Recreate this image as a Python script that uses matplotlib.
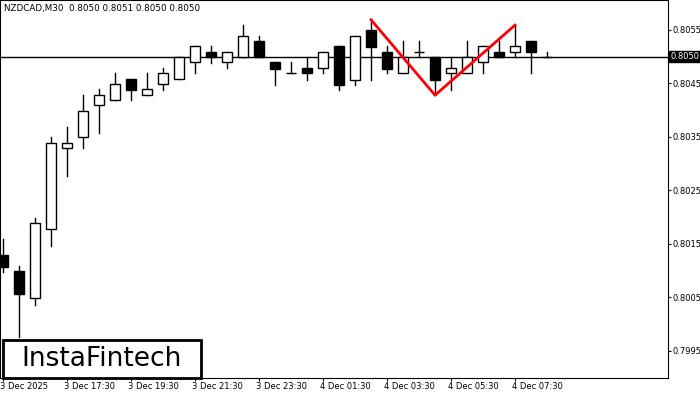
import matplotlib
matplotlib.use("Agg")
import matplotlib.pyplot as plt
from matplotlib.patches import Rectangle
import matplotlib.transforms as mt

opens  = [0.80129,0.80099,0.80049,0.80178,0.80329,0.80350,0.80410,0.80419,0.80458,0.80428,
          0.80449,0.80458,0.80490,0.80509,0.80490,0.80500,0.80529,0.80490,0.80470,0.80479,
          0.80479,0.80520,0.80457,0.80550,0.80509,0.80470,0.80509,0.80500,0.80470,0.80470,
          0.80490,0.80509,0.80509,0.80529,0.80500]
closes = [0.80107,0.80056,0.80189,0.80339,0.80339,0.80399,0.80428,0.80449,0.80438,0.80440,
          0.80470,0.80500,0.80520,0.80500,0.80509,0.80539,0.80500,0.80477,0.80470,0.80470,
          0.80509,0.80447,0.80539,0.80518,0.80477,0.80500,0.80509,0.80457,0.80479,0.80500,
          0.80520,0.80500,0.80520,0.80509,0.80500]
highs  = [0.80159,0.80109,0.80198,0.80350,0.80369,0.80428,0.80440,0.80470,0.80458,0.80470,
          0.80479,0.80500,0.80520,0.80520,0.80509,0.80559,0.80539,0.80490,0.80490,0.80500,
          0.80509,0.80520,0.80539,0.80569,0.80520,0.80529,0.80529,0.80500,0.80500,0.80529,
          0.80520,0.80529,0.80559,0.80529,0.80509]
lows   = [0.80097,0.79976,0.80036,0.80146,0.80277,0.80329,0.80357,0.80419,0.80419,0.80428,
          0.80438,0.80458,0.80470,0.80488,0.80479,0.80500,0.80500,0.80447,0.80470,0.80457,
          0.80470,0.80438,0.80447,0.80457,0.80470,0.80470,0.80500,0.80428,0.80438,0.80470,
          0.80470,0.80500,0.80500,0.80470,0.80500]
time_labels = ["3 Dec 2025","3 Dec 17:30","3 Dec 19:30","3 Dec 21:30","3 Dec 23:30",
               "4 Dec 01:30","4 Dec 03:30","4 Dec 05:30","4 Dec 07:30"]
price_ticks = [0.7995,0.8005,0.8015,0.8025,0.8035,0.8045,0.8055]
pattern_x = [23, 27, 32]
pattern_y = [0.80569, 0.80428, 0.80559]
current = 0.8050

fig = plt.figure(figsize=(7,4), dpi=100)
ax = fig.add_axes([0.0, 22/400, 668/700, 378/400])
ax.set_xlim(-0.19, 41.56)
ax.set_ylim(0.79899, 0.80606)
w = 0.6
for i,(o,c,h,l) in enumerate(zip(opens,closes,highs,lows)):
    top, bot = max(o,c), min(o,c)
    ax.plot([i,i],[l,h],color='black',lw=1,zorder=2)
    ax.add_patch(Rectangle((i-w/2,bot),w,max(top-bot,1e-6),
                 facecolor='black' if c<o else 'white',edgecolor='black',lw=1,zorder=3))
ax.axhline(current,color='black',lw=1,zorder=1)
ax.plot(pattern_x,pattern_y,color='red',lw=2,zorder=4)

ax.yaxis.tick_right()
ax.set_yticks(price_ticks)
ax.set_yticklabels([f"{p:.4f}" for p in price_ticks])
ax.set_xticks(range(0,33,4))
ax.set_xticklabels(time_labels, ha='left')
ax.tick_params(labelsize=6, length=2, direction='out', pad=1)
off = mt.ScaledTranslation(-2/72,0,fig.dpi_scale_trans)
for t in ax.get_xticklabels():
    t.set_transform(t.get_transform()+off)
ax.text(1.003,current,f"{current:.4f}",transform=ax.get_yaxis_transform(),
        va='center',ha='left',fontsize=6,color='white',
        bbox=dict(boxstyle='square,pad=0.15',fc='black',ec='black'))
ax.text(0.006,0.99,"NZDCAD,M30  0.8050 0.8051 0.8050 0.8050",transform=ax.transAxes,
        fontsize=6.3,va='top',ha='left')
ax.add_patch(Rectangle((3/668,0),198/668,38/378,transform=ax.transAxes,
             facecolor='white',edgecolor='black',lw=2,zorder=5,clip_on=False))
ax.text(102/668,19/378,"InstaFintech",transform=ax.transAxes,fontsize=19,
        ha='center',va='center',zorder=6)
fig.savefig("out.png", dpi=100)
